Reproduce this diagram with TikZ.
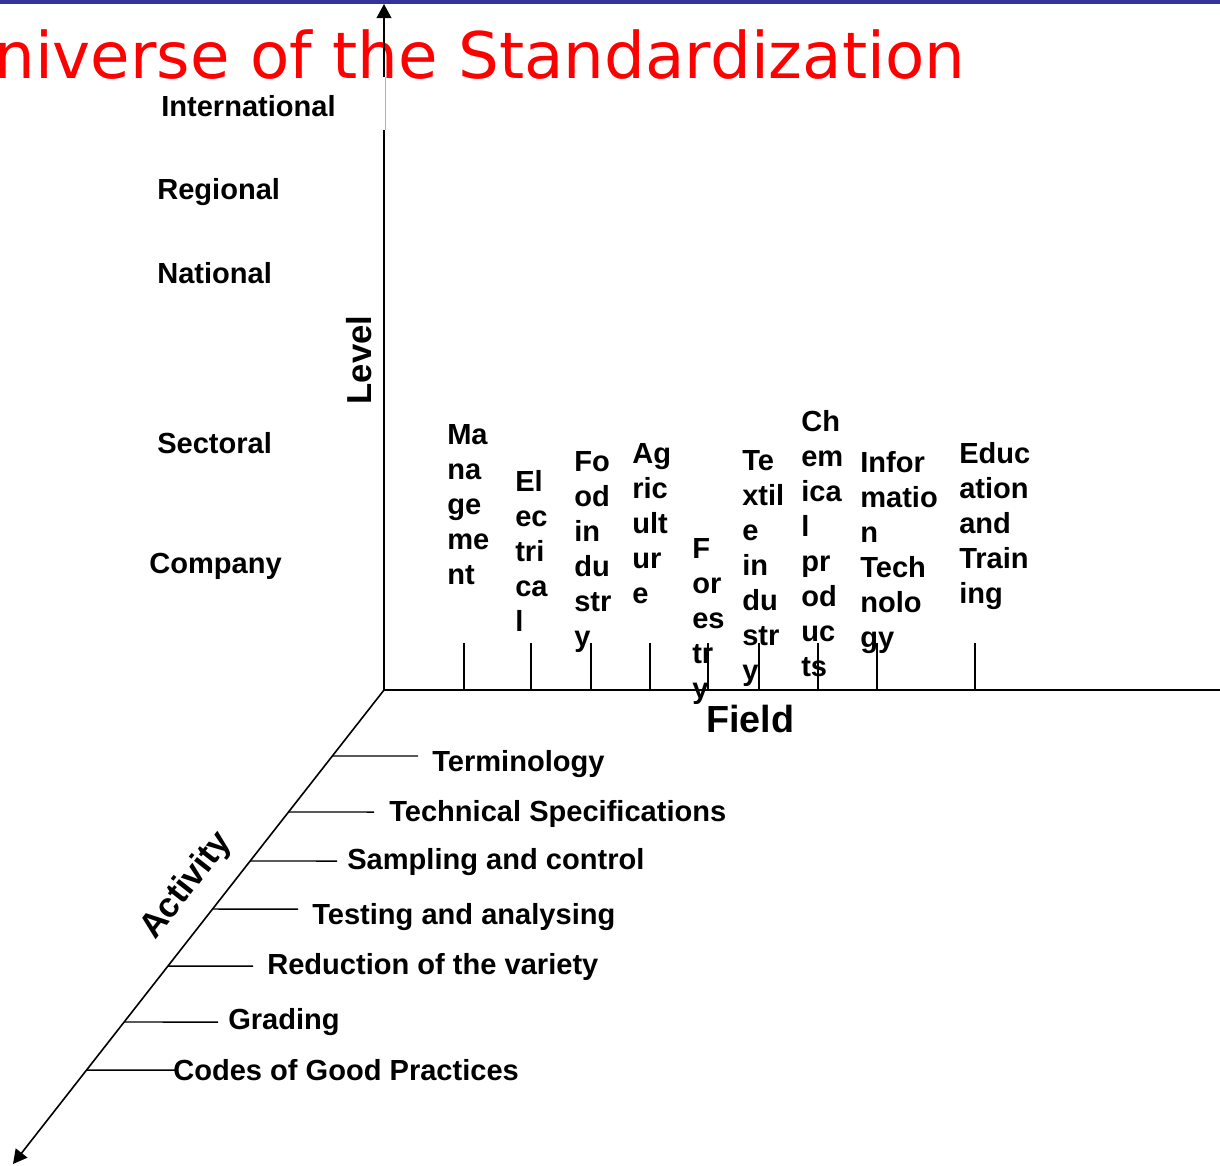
\documentclass[tikz,border=0pt]{standalone}
\usepackage{fontspec}
\setmainfont{Liberation Sans}
\newfontfamily\titlefont{DejaVu Sans}
\usetikzlibrary{arrows.meta,calc}
\definecolor{barblue}{RGB}{51,51,153}

\begin{document}
\begin{tikzpicture}[x=0.75pt,y=-0.75pt,
	lab/.style={font=\bfseries\fontsize{21.8}{26.25}\selectfont, inner sep=0, anchor=base west},
	field/.style={lab, align=left, anchor=north west},
	big/.style={font=\bfseries\fontsize{#1}{#1}\selectfont, inner sep=0},
	axis/.style={line width=1.2pt},
	tick/.style={line width=1.1pt}]

	% frame
	\useasboundingbox (0,0) rectangle (1220,1165);
	\clip (0,0) rectangle (1220,1165);
	\fill[barblue] (0,0) rectangle (1220,4);

	% title
	\node[anchor=base west, inner sep=0, text=red, font=\titlefont\fontsize{48.2}{50}\selectfont] (title) at (-53,78) {Universe of the Standardization};

	% axes
	\coordinate (O) at (384,690);
	\coordinate (T) at (384,4);
	\coordinate (R) at (1220,690);
	\coordinate (A) at (13,1164);
	\coordinate (gapbot) at (384,130);
	\coordinate (gaptop) at (384,77);
	\draw[axis] (O)--(gapbot);
	\draw[gray!60, line width=0.8pt] ([xshift=0.8pt]gapbot)--([xshift=0.8pt]gaptop);
	\draw[axis, -{Triangle[length=10.5pt,width=11pt]}] (gaptop)--(T);
	\draw[line width=1.6pt] (O)--(R);
	\draw[axis, -{Triangle[length=10.5pt,width=11pt]}] (O)--(A);

	% axis labels
	\node[big=26, rotate=90] (level) at (359,360) {Level};
	\node[big=28.3, anchor=base west] (fieldlab) at (706,732) {Field};
	\node[big=26, rotate=51.9] (activity) at (187,886) {Activity};

	% levels
	\node[lab] (intl) at (161,116) {International};
	\node[lab] (regional) at (157,199) {Regional};
	\node[lab] (national) at (157,283) {National};
	\node[lab] (sectoral) at (157,453) {Sectoral};
	\node[lab] (company) at (149,573) {Company};

	% fields
	\foreach \x in {464,531,591,650,708,759,818,877,975}
		\draw[tick] (\x,643)--(\x,690);
	\node[field] (mgmt) at (447,424) {Ma\\na\\ge\\me\\nt};
	\node[field] (elec) at (515,470) {El\\ec\\tri\\ca\\l};
	\node[field] (food) at (574,451) {Fo\\od\\in\\du\\str\\y};
	\node[field] (agri) at (632,443) {Ag\\ric\\ult\\ur\\e};
	\node[field] (forest) at (692,538) {F\\or\\es\\tr\\y};
	\node[field] (textile) at (742,450) {Te\\xtil\\e\\in\\du\\str\\y};
	\node[field] (chem) at (801,410) {Ch\\em\\ica\\l\\pr\\od\\uc\\ts};
	\node[field] (info) at (860,451) {Infor\\matio\\n\\Tech\\nolo\\gy};
	\node[field] (educ) at (959,442) {Educ\\ation\\and\\Train\\ing};

	% activities
	\foreach \y/\e in {756/418,812/374,861/337,909/298,966/253,1022/218,1070/175}
		\draw[tick] ($(O)!{(\y-690)/474}!(A)$)--(\e,\y);
	\node[lab] (term) at (432,771) {Terminology};
	\node[lab] (techspec) at (389,821) {Technical Specifications};
	\node[lab] (sampling) at (347,869) {Sampling and control};
	\node[lab] (testing) at (312,924) {Testing and analysing};
	\node[lab] (reduction) at (267,974) {Reduction of the variety};
	\node[lab] (grading) at (228,1029) {Grading};
	\node[lab] (codes) at (173,1080) {Codes of Good Practices};

\end{tikzpicture}
\end{document}
